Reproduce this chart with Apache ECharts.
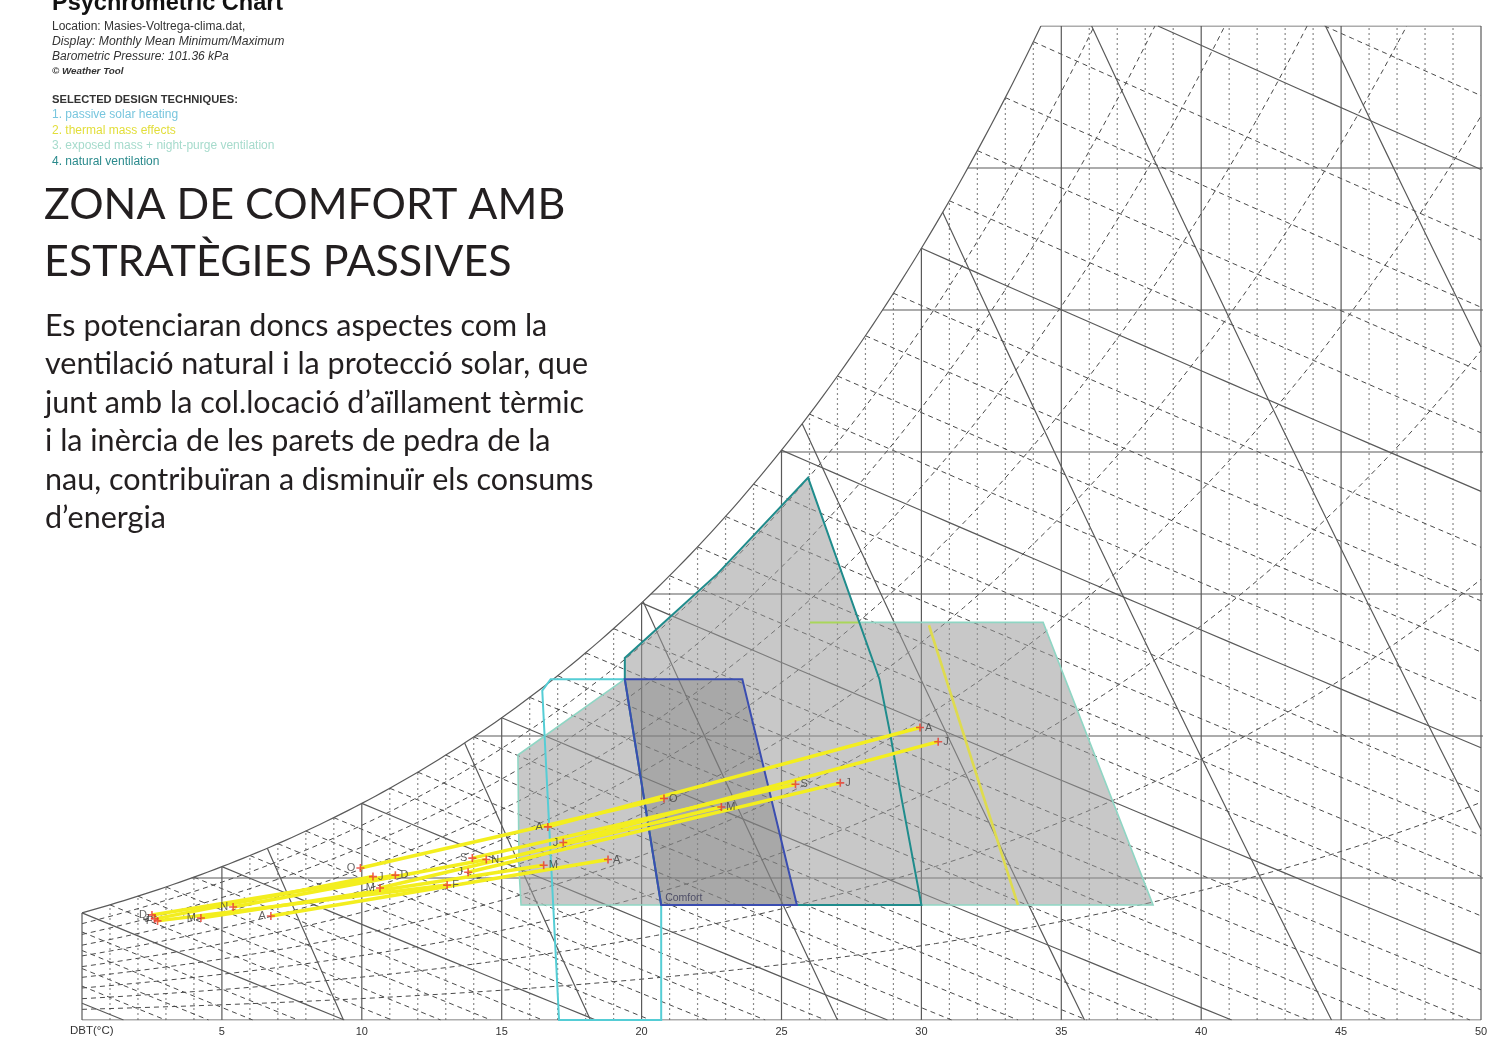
<!DOCTYPE html>
<html>
<head>
<meta charset="utf-8">
<script src="https://cdn.jsdelivr.net/npm/echarts@6/dist/echarts.min.js"></script>
<style>
html,body{margin:0;padding:0;background:#ffffff;}
#chart{width:1494px;height:1043px;}
</style>
</head>
<body>
<div id="chart"></div>
<script>
// Monthly mean minimum / maximum conditions: dry-bulb temperature (°C) and humidity ratio (g/kg)
const monthLabels = ['J','F','M','A','M','J','J','A','S','O','N','D'];
const minDBT = [2.6, 2.7, 4.25, 6.75, 10.65, 13.8, 17.2, 16.65, 13.95, 9.95, 5.4, 2.5];
const minHR  = [3.56, 3.49, 3.59, 3.66, 4.65, 5.2, 6.25, 6.8, 5.7, 5.35, 3.98, 3.7];
const maxDBT = [10.4, 13.05, 16.5, 18.8, 22.85, 27.1, 30.6, 29.95, 25.5, 20.8, 14.45, 11.2];
const maxHR  = [5.05, 4.75, 5.45, 5.65, 7.5, 8.35, 9.8, 10.3, 8.3, 7.8, 5.65, 5.1];

// Chart furniture levels
const rhLevels = [10, 20, 30, 40, 50, 60, 70, 80, 90];
const wetBulbLevels = [-5,-4,-3,-2,-1,0,1,2,3,4,5,6,7,8,9,10,11,12,13,14,15,16,17,18,19,20,
                       21,22,23,24,25,26,27,28,29,30,31,32,33,34,35,36];
const volumeLevels = [0.800, 0.825, 0.850, 0.875, 0.900, 0.925, 0.950];
const humidityLevels = [5, 10, 15, 20, 25, 30];
const dbtTickLabels = ['', '5', '10', '15', '20', '25', '30', '35', '40', '45', '50'];

// Design technique zones, as [dry-bulb °C, humidity ratio g/kg] vertices
const comfortZone = [[19.4, 12.0], [23.6, 12.0], [25.55, 4.05], [20.7, 4.05]];
const passiveSolarZone = [[20.7, 4.05], [20.7, 0], [17.05, 0], [16.45, 11.6], [16.75, 12.0], [19.4, 12.0]];
const naturalVentZone = [[20.7, 4.05], [19.4, 12.0], [19.4, 12.75], [22.7, 15.7], [25.95, 19.1],
                         [28.5, 12.0], [28.88, 10.1], [29.3, 7.75], [30.0, 4.05], [20.7, 4.05]];
const exposedMassEdge = [[27.8, 14.0], [34.35, 14.0], [38.28, 4.05], [15.69, 4.05], [15.62, 5.3],
                         [15.58, 9.33], [19.4, 12.0]];
const thermalMassTop = [[26.02, 14.0], [27.8, 14.0]];
const thermalMassSide = [[30.27, 13.9], [33.45, 4.05]];
const shadedArea = [[15.58, 9.33], [19.4, 12.0], [19.4, 12.75], [22.7, 15.7], [25.95, 19.1],
                    [27.8, 14.0], [34.35, 14.0], [38.28, 4.05], [15.69, 4.05], [15.62, 5.3]];

// ---- psychrometric relations (barometric pressure 101.36 kPa) ----
const P = 101.36;
const T_MAX = 50, W_MAX = 35;
function psat(t) { return 0.61078 * Math.exp(17.27 * t / (t + 237.3)); }
function wFromPv(pv) { return 622 * pv / (P - pv); }
function wSat(t) { return wFromPv(psat(t)); }
function wRH(t, rh) { return wFromPv(rh / 100 * psat(t)); }
function solve(f, lo, hi) {           // f increasing on [lo,hi], returns root
  for (let i = 0; i < 60; i++) {
    const m = (lo + hi) / 2;
    if (f(m) < 0) lo = m; else hi = m;
  }
  return (lo + hi) / 2;
}
function tSatAtW(w) { return solve(t => wSat(t) - w, -30, 80); }
function wWetBulb(t, twb) {
  const ws = wSat(twb) / 1000;
  return 1000 * ((2501 - 2.326 * twb) * ws - 1.006 * (t - twb)) / (2501 + 1.86 * t - 4.186 * twb);
}
function tVolume(v, w) { return v * P / (0.287042 * (1 + 1.6078 * w / 1000)) - 273.15; }

const tTop = tSatAtW(W_MAX);

// saturation curve
const satCurve = [];
for (let t = 0; t < tTop; t += 0.25) satCurve.push([t, wSat(t)]);
satCurve.push([tTop, W_MAX]);

// dry-bulb verticals
const dottedV = [], solidFrame = [];
for (let t = 1; t < T_MAX; t++) {
  const seg = [[t, 0], [t, Math.min(wSat(t), W_MAX)]];
  if (t % 5 === 0) solidFrame.push(seg); else dottedV.push(seg);
}
solidFrame.push([[0, 0], [0, wSat(0)]]);
solidFrame.push([[T_MAX, 0], [T_MAX, W_MAX]]);
// humidity ratio horizontals
humidityLevels.forEach(w => solidFrame.push([[tSatAtW(w), w], [50.4, w]]));
solidFrame.push([[tTop, W_MAX], [T_MAX, W_MAX]]);
solidFrame.push([[0, 0], [T_MAX, 0]]);
solidFrame.push(satCurve);

// relative humidity curves
const rhCurves = rhLevels.map(rh => {
  const pts = [];
  for (let t = 0; t <= T_MAX + 1e-9; t += 0.5) {
    const w = wRH(t, rh);
    if (w > W_MAX) {
      const te = solve(x => wRH(x, rh) - W_MAX, t - 0.5, t);
      pts.push([te, W_MAX]);
      break;
    }
    pts.push([t, w]);
  }
  return pts;
});

// wet-bulb lines
const wbDashed = [], wbSolid = [];
wetBulbLevels.forEach(twb => {
  const f = t => wWetBulb(t, twb);
  let t0 = Math.max(twb, 0);
  if (f(t0) <= 0) return;
  if (f(t0) > W_MAX) {
    if (f(T_MAX) > W_MAX) return;
    t0 = solve(t => W_MAX - f(t), t0, T_MAX);
  }
  const tZero = twb + (2501 - 2.326 * twb) * (wSat(twb) / 1000) / 1.006;
  const t1 = Math.min(tZero, T_MAX);
  const pts = [];
  for (let t = t0; t < t1; t += 1) pts.push([t, Math.max(f(t), 0)]);
  pts.push([t1, Math.max(f(t1), 0)]);
  (twb % 5 === 0 ? wbSolid : wbDashed).push(pts);
});

// specific volume lines
volumeLevels.forEach(v => {
  let w0 = 0;
  if (tVolume(v, 0) > T_MAX) w0 = (v * P / (0.287042 * (T_MAX + 273.15)) - 1) / 1.6078 * 1000;
  const g = w => tSatAtW(w) - tVolume(v, w);
  const w1 = g(W_MAX) < 0 ? W_MAX : solve(g, w0, W_MAX);
  const pts = [];
  for (let i = 0; i <= 10; i++) {
    const w = w0 + (w1 - w0) * i / 10;
    pts.push([tVolume(v, w), w]);
  }
  solidFrame.push(pts);
});

// ---- series builders ----
function linesSeries(polys, color, width, type, z) {
  return {
    type: 'lines', coordinateSystem: 'cartesian2d', polyline: true, silent: true, z: z,
    lineStyle: { color: color, width: width, type: type, opacity: 1 },
    data: polys.map(c => ({ coords: c }))
  };
}
function shapeSeries(points, style, closed, z, extra) {
  return {
    type: 'custom', coordinateSystem: 'cartesian2d', silent: true, z: z, data: [[0, 0]],
    renderItem: (params, api) => {
      const pts = points.map(p => api.coord(p));
      const el = { type: closed ? 'polygon' : 'polyline', shape: { points: pts }, style: style };
      if (!extra) return el;
      return { type: 'group', children: [el].concat(extra(api)) };
    }
  };
}

const plusSymbol = 'path://M3.2,0H4.8V8H3.2ZM0,3.2H8V4.8H0Z';
const monthLabelStyle = { show: true, color: '#3d3d3d', fontSize: 11, fontFamily: 'Liberation Sans', distance: 1 };

const series = [
  linesSeries(dottedV, '#8a8a8a', 1.2, [2, 3], 1),
  linesSeries(rhCurves, '#4a4a4a', 1, [5, 4], 1),
  linesSeries(wbDashed, '#4a4a4a', 1, [5, 4], 1),
  linesSeries(wbSolid, '#5a5a5a', 1.2, 'solid', 1),
  linesSeries(solidFrame, '#5a5a5a', 1.2, 'solid', 1),

  // shaded region covered by the selected techniques
  shapeSeries(shadedArea, { fill: 'rgba(154,154,154,0.54)', stroke: 'none' }, true, 3),
  // comfort zone fill and label
  shapeSeries(comfortZone, { fill: 'rgba(110,110,110,0.36)', stroke: 'none' }, true, 4, api => {
    const c = api.coord([20.7, 4.05]);
    return [{ type: 'text', x: c[0] + 4, y: c[1] - 7,
      style: { text: 'Comfort', fill: '#4e4e66', font: '10.5px "Liberation Sans"', align: 'left', verticalAlign: 'middle' } }];
  }),

  // zone outlines
  shapeSeries(thermalMassTop, { fill: 'none', stroke: '#a9d65a', lineWidth: 2 }, false, 5),
  shapeSeries(exposedMassEdge, { fill: 'none', stroke: '#8fd6c4', lineWidth: 1.6 }, false, 5),
  shapeSeries(thermalMassSide, { fill: 'none', stroke: '#dedb4e', lineWidth: 2.6 }, false, 5),
  shapeSeries(passiveSolarZone, { fill: 'none', stroke: '#55cdd5', lineWidth: 2 }, false, 5),
  shapeSeries(naturalVentZone, { fill: 'none', stroke: '#1f8c8c', lineWidth: 2 }, false, 6),
  shapeSeries(comfortZone, { fill: 'none', stroke: '#3a4db0', lineWidth: 2 }, true, 6),

  // monthly min-max lines
  {
    type: 'lines', coordinateSystem: 'cartesian2d', silent: true, z: 7,
    lineStyle: { color: '#f3ee1f', width: 3.5, opacity: 1 },
    data: minDBT.map((t, i) => ({ coords: [[t, minHR[i]], [maxDBT[i], maxHR[i]]] }))
  },
  {
    type: 'scatter', z: 8, silent: true, symbol: plusSymbol, symbolSize: 8,
    itemStyle: { color: '#e8382c' },
    label: Object.assign({ position: 'left', formatter: p => monthLabels[p.dataIndex] }, monthLabelStyle),
    data: minDBT.map((t, i) => [t, minHR[i]])
  },
  {
    type: 'scatter', z: 8, silent: true, symbol: plusSymbol, symbolSize: 8,
    itemStyle: { color: '#e8382c' },
    label: Object.assign({ position: 'right', formatter: p => monthLabels[p.dataIndex] }, monthLabelStyle),
    data: maxDBT.map((t, i) => [t, maxHR[i]])
  }
];

// ---- text block ----
function txt(text, x, y, font, fill) {
  return { type: 'text', x: x, y: y, silent: true, z: 20,
    style: { text: text, font: font, fill: fill, align: 'left', verticalAlign: 'middle',
             textAlign: 'left', textVerticalAlign: 'middle' } };
}
const arial = '"Liberation Sans", Arial, sans-serif';
const bodyFont = 'Lato, "Noto Sans", sans-serif';
const headingLines = ['ZONA DE COMFORT AMB', 'ESTRATÈGIES PASSIVES'];
const bodyLines = [
  'Es potenciaran doncs aspectes com la',
  'ventilació natural i la protecció solar, que',
  'junt amb la col.locació d\u2019aïllament tèrmic',
  'i la inèrcia de les parets de pedra de la',
  'nau, contribuïran a disminuïr els consums',
  'd\u2019energia'
];
const techniques = [
  ['1. passive solar heating', '#78c6de'],
  ['2. thermal mass effects', '#e2de3a'],
  ['3. exposed mass + night-purge ventilation', '#a6dbcc'],
  ['4. natural ventilation', '#2a8a8c']
];

const graphic = [
  txt('Psychrometric Chart', 52, 4, 'bold 23.5px ' + arial, '#111'),
  txt('Location: Masies-Voltrega-clima.dat,', 52, 27, '12px ' + arial, '#333'),
  txt('Display: Monthly Mean Minimum/Maximum', 52, 42, 'italic 12.2px ' + arial, '#333'),
  txt('Barometric Pressure: 101.36 kPa', 52, 57, 'italic 12px ' + arial, '#333'),
  txt('\u00a9 Weather Tool', 52, 71, 'italic bold 9.8px ' + arial, '#333'),
  txt('SELECTED DESIGN TECHNIQUES:', 52, 100, 'bold 11.2px ' + arial, '#333'),
  txt('DBT(\u00b0C)', 70, 1031, '11.5px ' + arial, '#333')
];
techniques.forEach((t, i) => graphic.push(txt(t[0], 52, 115 + i * 15.5, '12px ' + arial, t[1])));
headingLines.forEach((t, i) => graphic.push(txt(t, 44, 205 + i * 57, '43px ' + bodyFont, '#231f20')));
bodyLines.forEach((t, i) => graphic.push(txt(t, 45, 326 + i * 38.5, '30.5px ' + bodyFont, '#231f20')));

const chart = echarts.init(document.getElementById('chart'), null, { renderer: 'canvas' });
chart.setOption({
  animation: false,
  backgroundColor: '#ffffff',
  grid: { left: 82, right: 13, top: 26, bottom: 23 },
  xAxis: {
    type: 'value', min: 0, max: 50, interval: 5,
    axisLine: { show: false }, axisTick: { show: false }, splitLine: { show: false },
    axisLabel: { color: '#333', fontSize: 11, fontFamily: 'Liberation Sans', margin: 6,
                 formatter: v => dbtTickLabels[Math.round(v / 5)] }
  },
  yAxis: { type: 'value', min: 0, max: 35, show: false },
  graphic: graphic,
  series: series
});
</script>
</body>
</html>
